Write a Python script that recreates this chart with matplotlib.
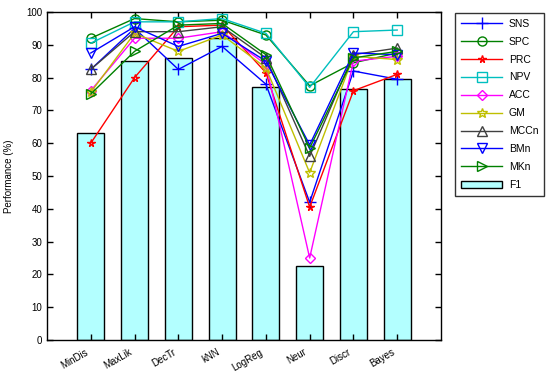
import numpy as np
import matplotlib
matplotlib.use('Agg')
import matplotlib.pyplot as plt
import matplotlib.transforms as mtransforms

plt.rcParams['font.family'] = ['Liberation Sans', 'DejaVu Sans']

methods = ['MinDis', 'MaxLik', 'DecTr', 'kNN', 'LogReg', 'Neur', 'Discr', 'Bayes']
f1 = [63, 85, 86, 92, 77, 22.5, 76.5, 79.5]

sns_v = [82.5, 95, 82.5, 89.5, 78, 42, 82, 79.5]
spc_v = [92, 98, 97, 97.5, 93, 77.5, 84.5, 87.5]
prc_v = [60, 80, 95.5, 96, 81.5, 40.5, 76, 81]
npv_v = [90.5, 97, 97, 98, 93.5, 77, 94, 94.5]
acc_v = [76, 92, 92, 94, 84, 25, 85, 86.5]
gm_v = [75.5, 93.5, 88, 93, 83, 51, 86.5, 85.5]
mccn_v = [82.5, 94, 94, 95.5, 86, 56, 87, 89]
bmn_v = [87.5, 95.5, 89.5, 93.5, 85, 59.5, 87.5, 87]
mkn_v = [75, 88, 96, 96.5, 87, 58.5, 86, 88]

series = [
    ('SNS', sns_v, '#0000ff', '+'),
    ('SPC', spc_v, '#008000', 'o'),
    ('PRC', prc_v, '#ff0000', '*'),
    ('NPV', npv_v, '#00bfbf', 's'),
    ('ACC', acc_v, '#ff00ff', 'D'),
    ('GM', gm_v, '#bfbf00', '*'),
    ('MCCn', mccn_v, '#404040', '^'),
    ('BMn', bmn_v, '#0000ff', 'v'),
    ('MKn', mkn_v, '#008000', '>'),
]

fig = plt.figure(figsize=(5.5, 3.73), dpi=100)
ax = fig.add_axes([47 / 550, 1 - 340 / 373, 394 / 550, 328 / 373])
x = np.arange(1, len(methods) + 1)

bars = ax.bar(x, f1, width=0.62, color='#b3ffff', edgecolor='black', linewidth=1, label='F1', zorder=1)
lines = []
for name, vals, col, mk in series:
    ms = 6.5
    if mk == 'D':
        ms = 5.5
    elif mk == '*' and name == 'PRC':
        ms = 5.5
    elif mk == '*':
        ms = 7.5
    elif mk == '+':
        ms = 8
    ln, = ax.plot(x, vals, color=col, marker=mk, markersize=ms, markerfacecolor='none',
                  markeredgecolor=col, linewidth=1, label=name, zorder=3)
    lines.append(ln)

ax.set_xlim(0, 9)
ax.set_ylim(0, 100)
ax.set_yticks(np.arange(0, 101, 10))
ax.set_xticks(x)
ax.set_xticklabels(methods, rotation=30, ha='right', rotation_mode='anchor', fontsize=7)
ax.tick_params(axis='both', direction='in', top=True, right=True, length=4, width=1, labelsize=7)
ax.tick_params(axis='x', pad=5)
shift = mtransforms.ScaledTranslation(-6 / 100, 0, fig.dpi_scale_trans)
for lab in ax.get_xticklabels():
    lab.set_transform(lab.get_transform() + shift)
for s in ax.spines.values():
    s.set_linewidth(1)
ax.set_ylabel('Performance (%)', fontsize=7, labelpad=9)

leg = fig.legend(lines + [bars], [s[0] for s in series] + ['F1'], loc='upper left',
                 bbox_to_anchor=(455 / 550, 1 - 13 / 373),
                 fontsize=7.5, frameon=True, fancybox=False, edgecolor='black',
                 handlelength=4.0, labelspacing=0.76, borderpad=0.55, handletextpad=0.6,
                 borderaxespad=0)
leg.get_frame().set_linewidth(1)

fig.savefig('out.png', dpi=100)
